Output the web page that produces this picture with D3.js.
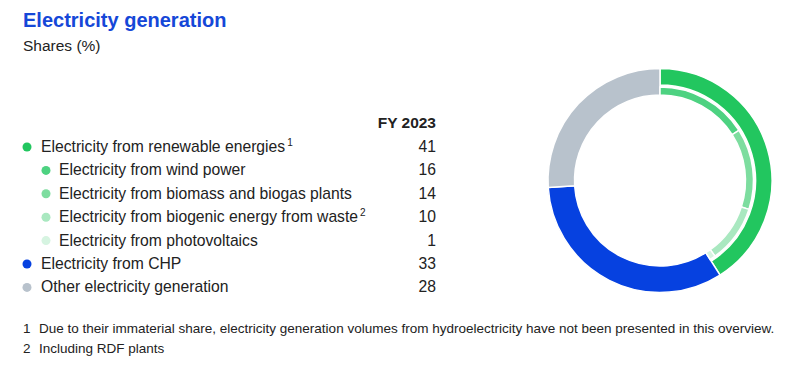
<!DOCTYPE html>
<html>
<head>
<meta charset="utf-8">
<script src="https://cdn.jsdelivr.net/npm/d3@7"></script>
<style>
  body { margin: 0; background: #fff; }
  svg { font-family: "Liberation Sans", Arial, sans-serif; }
</style>
</head>
<body>
<script>
var width = 806, height = 373;

// legend rows (level 0 = main category, 1 = sub category of renewables)
var labels = [
  "Electricity from renewable energies",
  "Electricity from wind power",
  "Electricity from biomass and biogas plants",
  "Electricity from biogenic energy from waste",
  "Electricity from photovoltaics",
  "Electricity from CHP",
  "Other electricity generation"
];
var values = [41, 16, 14, 10, 1, 33, 28];
var levels = [0, 1, 1, 1, 1, 0, 0];
var notes = ["1", "", "", "2", "", "", ""];
var colors = ["#22c65f", "#4dd281", "#7ddd9f", "#a9e8c0", "#d6f4e1", "#0641e0", "#b8c2cc"];
var header = "FY 2023";
var footnotes = [
  ["1", "Due to their immaterial share, electricity generation volumes from hydroelectricity have not been presented in this overview."],
  ["2", "Including RDF plants"]
];

var svg = d3.select("body").append("svg")
    .attr("width", width)
    .attr("height", height);

// title
svg.append("text")
    .attr("x", 23)
    .attr("y", 27)
    .style("font-size", "20px")
    .style("font-weight", "bold")
    .style("fill", "#1547d8")
    .text("Electricity generation");

svg.append("text")
    .attr("x", 23)
    .attr("y", 51)
    .style("font-size", "15.5px")
    .style("fill", "#222")
    .text("Shares (%)");

// legend table
var rowY = d3.scaleLinear().domain([0, 1]).range([152, 175.4]);
var valueX = 436;

svg.append("text")
    .attr("x", valueX)
    .attr("y", 128)
    .attr("text-anchor", "end")
    .style("font-size", "15.5px")
    .style("font-weight", "bold")
    .style("fill", "#222")
    .text(header);

var row = svg.selectAll(".row")
    .data(labels)
  .enter().append("g")
    .attr("class", "row")
    .attr("transform", function(d, i) { return "translate(0," + rowY(i) + ")"; });

row.append("circle")
    .attr("cx", function(d, i) { return levels[i] ? 46 : 27; })
    .attr("cy", -5)
    .attr("r", 4.5)
    .style("fill", function(d, i) { return colors[i]; });

var lbl = row.append("text")
    .attr("x", function(d, i) { return levels[i] ? 59 : 41; })
    .style("font-size", "15.7px")
    .style("fill", "#222")
    .text(String);

lbl.append("tspan")
    .attr("dx", 2)
    .attr("dy", -6)
    .style("font-size", "10px")
    .text(function(d, i) { return notes[i]; });

row.append("text")
    .attr("x", valueX)
    .attr("text-anchor", "end")
    .style("font-size", "15.7px")
    .style("fill", "#222")
    .text(function(d, i) { return values[i]; });

// donut
var cx = 660, cy = 180.5;
var angle = d3.scaleLinear().domain([0, 100]).range([0, 2 * Math.PI]).clamp(true);

var donut = svg.append("g")
    .attr("transform", "translate(" + cx + "," + cy + ")");

// outer ring: main categories, renewables ring is thinner to leave room for its breakdown
var mainIdx = [0, 5, 6], start = 0;
var mains = mainIdx.map(function(i) {
  var d = {i: i, a0: start, a1: start + values[i]};
  start += values[i];
  return d;
});
var subs = [1, 2, 3, 4], s0 = 0;
var subArcs = subs.map(function(i) {
  var d = {i: i, a0: s0, a1: s0 + values[i]};
  s0 += values[i];
  return d;
});

var arcMain = d3.arc()
    .innerRadius(function(d) { return d.i === 0 ? 95.5 : 85.5; })
    .outerRadius(112)
    .startAngle(function(d) { return angle(d.a0); })
    .endAngle(function(d) { return d.i === 6 ? 2 * Math.PI : angle(d.a1); });

var arcSub = d3.arc()
    .innerRadius(85.5)
    .outerRadius(93.5)
    .startAngle(function(d) { return angle(d.a0); })
    .endAngle(function(d) { return angle(d.a1); });

donut.selectAll(".main")
    .data(mains)
  .enter().append("path")
    .attr("class", "main")
    .attr("d", arcMain)
    .style("fill", function(d) { return colors[d.i]; })
    .style("stroke", "#fff")
    .style("stroke-width", 1.5);

donut.selectAll(".sub")
    .data(subArcs)
  .enter().append("path")
    .attr("class", "sub")
    .attr("d", arcSub)
    .style("fill", function(d) { return colors[d.i]; })
    .style("stroke", "#fff")
    .style("stroke-width", 1.5);

// footnotes
var fn = svg.selectAll(".fn")
    .data(footnotes)
  .enter().append("g")
    .attr("class", "fn")
    .attr("transform", function(d, i) { return "translate(0," + (333 + i * 20) + ")"; });

fn.append("text")
    .attr("x", 23)
    .style("font-size", "13.5px")
    .style("fill", "#222")
    .text(function(d) { return d[0]; });

fn.append("text")
    .attr("x", 39)
    .style("font-size", "13.5px")
    .style("fill", "#222")
    .text(function(d) { return d[1]; });
</script>
</body>
</html>
